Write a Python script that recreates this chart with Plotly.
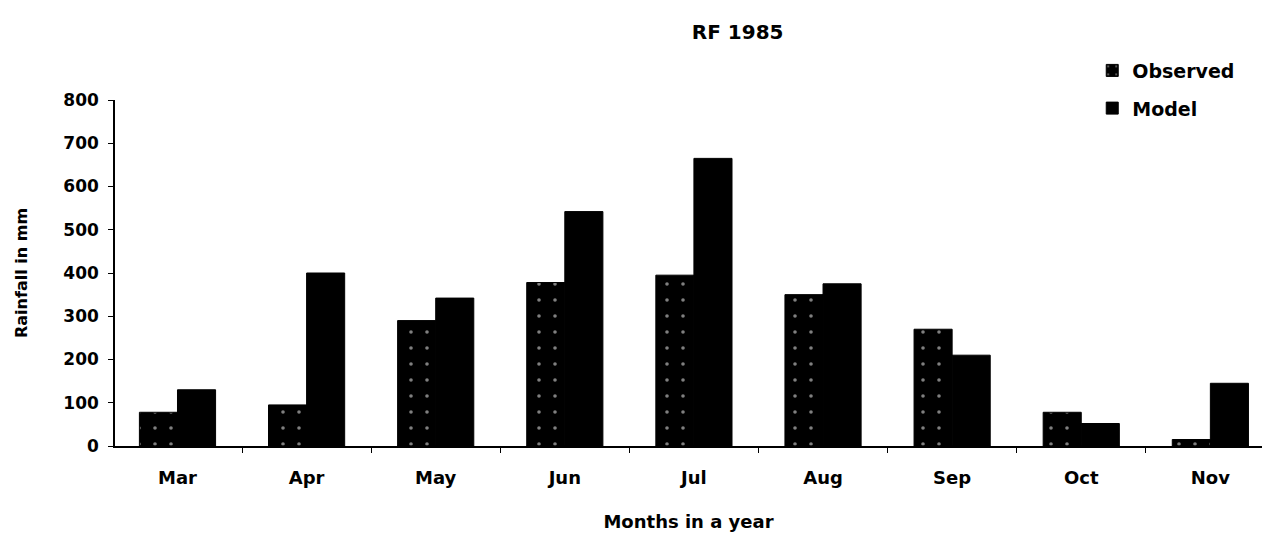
import plotly.graph_objects as go

# Monthly rainfall for 1985 (mm)
months = ["Mar", "Apr", "May", "Jun", "Jul", "Aug", "Sep", "Oct", "Nov"]
observed = [78, 95, 290, 378, 395, 350, 270, 78, 15]
model = [130, 400, 342, 542, 665, 375, 210, 52, 145]
y_ticks = [0, 100, 200, 300, 400, 500, 600, 700, 800]

font_family = "DejaVu Sans, Verdana, sans-serif"

fig = go.Figure()
fig.add_trace(go.Bar(
    x=months, y=observed, name="Observed", legendgroup="obs",
    marker=dict(
        color="black",
        line=dict(color="black", width=1),
        pattern=dict(shape=".", fgcolor="white", bgcolor="black",
                     size=16, solidity=0.04),
    ),
))
fig.add_trace(go.Bar(
    x=months, y=model, name="Model", legendgroup="mod",
    marker=dict(color="black", line=dict(color="black", width=1)),
))

fig.update_layout(
    width=1274, height=541,
    margin=dict(l=115, r=12, t=100, b=92),
    paper_bgcolor="white", plot_bgcolor="white",
    barmode="group", bargap=0.41, bargroupgap=0,
    font=dict(family=font_family, size=17, color="black", weight="bold"),
    title=dict(text="RF 1985", x=0.579, xref="container", xanchor="center",
               y=0.94, yref="container", yanchor="middle",
               font=dict(size=20, color="black", weight="bold")),
    legend=dict(x=0.852, y=1.14, xanchor="left", yanchor="top",
                font=dict(size=19, weight="bold"), bgcolor="rgba(0,0,0,0)",
                traceorder="grouped", tracegroupgap=10, itemwidth=30),
    showlegend=True,
)

fig.update_xaxes(
    range=[-0.484, 8.4],
    showline=True, linecolor="black", linewidth=1.5,
    ticks="outside", tickson="boundaries", ticklen=5, tickcolor="black",
    tickfont=dict(size=18, weight="bold"), ticklabelstandoff=15,
    title=dict(text="Months in a year", font=dict(size=18, weight="bold"),
               standoff=28),
    showgrid=False, zeroline=False,
)
fig.update_yaxes(
    range=[0, 800], tickvals=y_ticks,
    showline=True, linecolor="black", linewidth=1.5,
    ticks="outside", ticklen=5, tickcolor="black",
    tickfont=dict(size=17, weight="bold"), ticklabelstandoff=6,
    title=dict(text="Rainfall in mm", font=dict(size=16, weight="bold"),
               standoff=32),
    showgrid=False, zeroline=False,
)

fig.write_html("out.html")
